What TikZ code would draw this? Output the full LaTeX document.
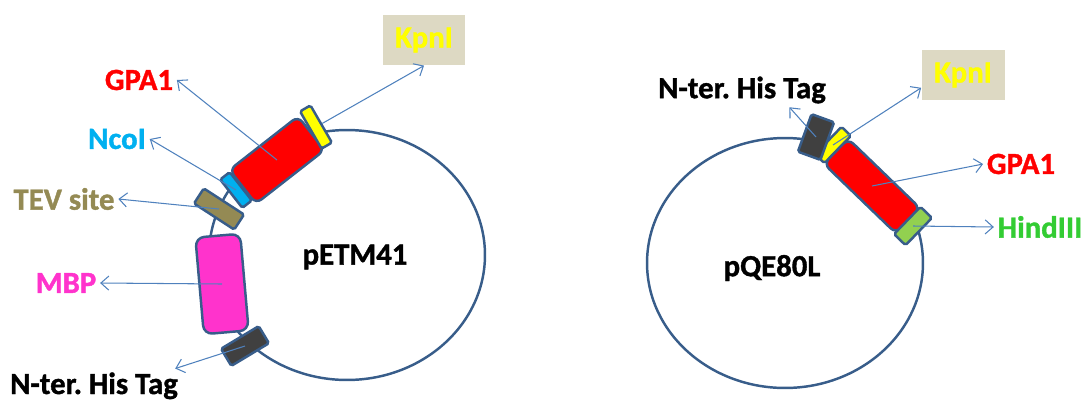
\documentclass[tikz,border=0pt]{standalone}
\usepackage{fontspec}
\setmainfont{Carlito}[BoldFeatures={FakeBold=1.2}]
\usepackage{xcolor}
\usetikzlibrary{arrows.meta,shapes.geometric}

\definecolor{edgeblue}{RGB}{56,93,138}
\definecolor{pointerblue}{RGB}{79,129,189}
\definecolor{gpared}{RGB}{255,0,0}
\definecolor{kpnyellow}{RGB}{255,255,0}
\definecolor{kpnbox}{RGB}{221,217,195}
\definecolor{ncoblue}{RGB}{0,176,240}
\definecolor{tevolive}{RGB}{148,138,84}
\definecolor{mbppink}{RGB}{255,51,204}
\definecolor{hisgray}{RGB}{64,64,64}
\definecolor{hindgreen}{RGB}{146,208,80}
\definecolor{hindtext}{RGB}{51,204,51}

\tikzset{
  plasmid/.style={draw=edgeblue, line width=1.4pt, ellipse, inner sep=0pt,
    minimum width=5.52cm, minimum height=5cm},
  part/.style={draw=edgeblue, line width=1.4pt, inner sep=0pt, rounded corners=1pt},
  pointer/.style={pointerblue, line width=0.6pt, -{Straight Barb[length=4.5pt,width=8pt]}},
  lbl/.style={font=\fontsize{17.5}{20}\selectfont\bfseries, inner sep=2pt},
  namelbl/.style={font=\fontsize{17.5}{20}\selectfont\bfseries, inner sep=0pt},
  sitebox/.style={fill=kpnbox, text=kpnyellow, font=\fontsize{17.5}{20}\selectfont\bfseries,
    minimum width=1.66cm, minimum height=1.01cm, inner sep=0pt}
}

\begin{document}
\frenchspacing
\begin{tikzpicture}[x=0.02cm, y=-0.02cm]
    \useasboundingbox (0,0) rectangle (1086,403);

    % pETM41 backbone
    \node[plasmid] (petm) at (347,255) {};
    \node[namelbl] (petmname) at (355,257) {pETM41};

    % pETM41 insert
    \node[part, fill=gpared, minimum width=1.74cm, minimum height=0.86cm, rotate=38, rounded corners=4pt] (gpaL) at (277,160) {};
    \node[part, fill=ncoblue, minimum width=0.24cm, minimum height=0.72cm, rotate=38] (ncoL) at (236,190) {};
    \node[part, fill=kpnyellow, minimum width=0.24cm, minimum height=0.86cm, rotate=30] (kpnLsite) at (316,127) {};
    \node[part, fill=tevolive, minimum width=0.96cm, minimum height=0.36cm, rotate=-33] (tevL) at (219,209) {};
    \node[part, fill=mbppink, minimum width=0.90cm, minimum height=1.94cm, rotate=5, rounded corners=5pt] (mbpL) at (222,284) {};
    \node[part, fill=hisgray, minimum width=0.88cm, minimum height=0.40cm, rotate=31] (hisL) at (245,346) {};

    % pETM41 labels
    \node[sitebox] (kpnL) at (424,40) {KpnI};
    \node[lbl, text=gpared] (gpaLlbl) at (139,80) {GPA1};
    \node[lbl, text=ncoblue] (ncoLlbl) at (117,139) {NcoI};
    \node[lbl, text=tevolive] (tevLlbl) at (64,199) {TEV site};
    \node[lbl, text=mbppink] (mbpLlbl) at (66,283) {MBP};
    \node[lbl, anchor=base] (hisLlbl) at (94,394) {N-ter. His Tag};

    \draw[pointer] (kpnLsite) -- (kpnL.south);
    \draw[pointer] (gpaL.center) -- (gpaLlbl.east);
    \draw[pointer] (ncoL.center) -- (ncoLlbl.east);
    \draw[pointer] (tevL.center) -- (tevLlbl.east);
    \draw[pointer] (mbpL.center) -- (mbpLlbl.east);
    \draw[pointer] (hisL.center) -- (hisLlbl.12);

    % pQE80L backbone
    \node[plasmid] (pqe) at (785,263) {};
    \node[namelbl] (pqename) at (772,268) {pQE80L};

    % pQE80L insert
    \node[part, fill=kpnyellow, minimum width=0.26cm, minimum height=0.76cm, rotate=-44] (kpnRsite) at (833,145) {};
    \node[part, fill=gpared, minimum width=2.0cm, minimum height=0.70cm, rotate=-44, rounded corners=4pt] (gpaR) at (872,186) {};
    \node[part, fill=hindgreen, minimum width=0.32cm, minimum height=0.76cm, rotate=-44] (hindR) at (913,226) {};
    \node[part, fill=hisgray, minimum width=0.48cm, minimum height=0.80cm, rotate=-20] (hisR) at (816,137) {};

    % pQE80L labels
    \node[sitebox] (kpnR) at (963,75) {KpnI};
    \node[lbl] (hisRlbl) at (742,90) {N-ter. His Tag};
    \node[lbl, text=gpared] (gpaRlbl) at (1021,164) {GPA1};
    \node[lbl, text=hindtext] (hindRlbl) at (1040,227) {HindIII};

    \draw[pointer] (hisR.center) -- (hisRlbl.-20);
    \draw[pointer] (kpnRsite.center) -- (kpnR.-163);
    \draw[pointer] (gpaR.center) -- (gpaRlbl.west);
    \draw[pointer] (hindR.center) -- (hindRlbl.west);
\end{tikzpicture}
\end{document}
